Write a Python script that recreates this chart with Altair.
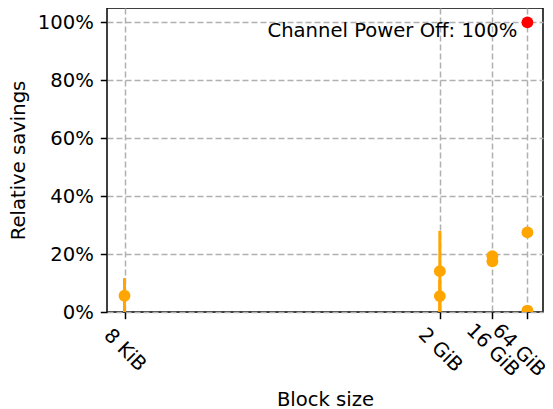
import altair as alt
import pandas as pd

# ---- data ----
block_labels = ["8 KiB", "2 GiB", "16 GiB", "64 GiB"]
block_bytes = [2**13, 2**31, 2**34, 2**36]

pt_block = ["8 KiB", "2 GiB", "2 GiB", "16 GiB", "16 GiB", "64 GiB", "64 GiB"]
pt_savings = [0.056, 0.141, 0.055, 0.193, 0.175, 0.275, 0.005]
pt_err_lo = [-0.02, -0.02, -0.02, 0.193, 0.175, 0.275, 0.005]
pt_err_hi = [0.117, 0.280, 0.110, 0.193, 0.175, 0.275, 0.005]

off_block = ["64 GiB"]
off_savings = [1.0]
off_label = ["Channel Power Off: 100%"]

y_ticks = [0, 0.2, 0.4, 0.6, 0.8, 1.0]
x_domain = [2**12.0, 2**36.89]
y_domain = [0, 1.0494]

FONT = "DejaVu Sans"
FS = 19.6
ORANGE = "#FFA500"
RED = "#FF0000"

bmap = dict(zip(block_labels, block_bytes))
pts = pd.DataFrame({
    "bytes": [bmap[b] for b in pt_block],
    "savings": pt_savings,
    "lo": pt_err_lo,
    "hi": pt_err_hi,
})
off = pd.DataFrame({
    "bytes": [bmap[b] for b in off_block],
    "savings": off_savings,
    "label": off_label,
})

label_expr = ""
for b, l in zip(block_bytes, block_labels):
    label_expr += f"datum.value == {b} ? '{l}' : "
label_expr += "''"

x_scale = alt.Scale(type="log", base=2, domain=x_domain, nice=False, zero=False)
y_scale = alt.Scale(domain=y_domain, nice=False, zero=False)

x_axis = alt.Axis(
    values=block_bytes, labelExpr=label_expr, title="Block size",
    labelAngle=45, labelAlign="center", labelBaseline="middle", labelPadding=31,
    labelOffset={"condition": {"test": f"datum.value == {block_bytes[-1]}", "value": -9}, "value": 0},
    labelOverlap=False, labelBound=False, labelFlush=False,
    titleX=218, titleY=87.5, titleAnchor="start", titleAlign="center", titleBaseline="middle",
)
y_axis = alt.Axis(
    values=y_ticks, format=".0%", title="Relative savings",
    labelPadding=7, labelOverlap=False,
    titleX=-89, titleY=152, titleAngle=-90, titleAlign="center", titleBaseline="middle",
)

x_enc = alt.X("bytes:Q", scale=x_scale, axis=x_axis)
y_enc = alt.Y("savings:Q", scale=y_scale, axis=y_axis)

bars = alt.Chart(pts).mark_rule(color=ORANGE, strokeWidth=3, clip=True).encode(
    x=alt.X("bytes:Q", scale=x_scale, axis=x_axis),
    y=alt.Y("lo:Q", scale=y_scale, axis=y_axis),
    y2="hi:Q",
)
dots = alt.Chart(pts).mark_point(filled=True, shape="circle", size=140, opacity=1,
                                 color=ORANGE, clip=True).encode(x=x_enc, y=y_enc)
red = alt.Chart(off).mark_point(filled=True, shape="circle", size=140, opacity=1,
                                color=RED, clip=True).encode(x=x_enc, y=y_enc)
txt = alt.Chart(off).mark_text(align="right", baseline="alphabetic", dx=-10, dy=15,
                               font=FONT, fontSize=FS, color="black").encode(
    x=x_enc, y=y_enc, text="label:N")

chart = alt.layer(bars, dots, red, txt).properties(
    width=436, height=304,
    background="white",
    autosize=alt.AutoSizeParams(type="none"),
    padding={"left": 99, "top": 0, "right": 2, "bottom": 97},
).configure_view(
    stroke="black", strokeWidth=1.5,
).configure_axis(
    domain=False,
    grid=True, gridColor="#b0b0b0", gridWidth=1.5, gridDash=[6, 3],
    ticks=True, tickColor="black", tickSize=6.7, tickWidth=1.5,
    labelFont=FONT, labelFontSize=FS, labelColor="black",
    titleFont=FONT, titleFontSize=FS, titleFontWeight="normal", titleColor="black",
)

chart.save("out.html", embed_options={"renderer": "svg", "actions": False})
